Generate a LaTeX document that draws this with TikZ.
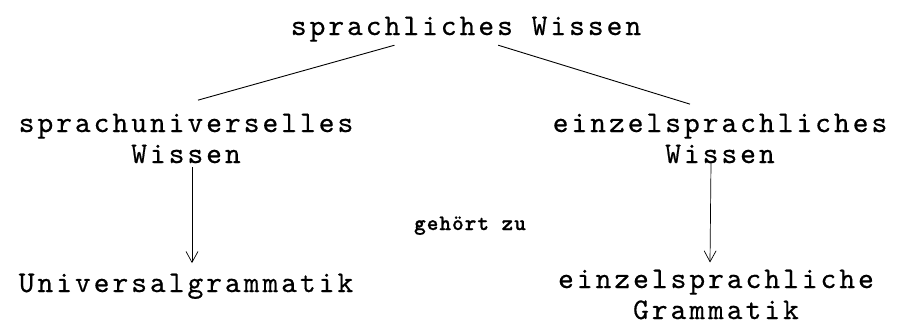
\documentclass[tikz,border=0pt]{standalone}
\usepackage{fontspec}
\usetikzlibrary{arrows.meta, calc}

\newfontfamily\typefont{lmmono10-regular.otf}[LetterSpace=10, FakeBold=0.5]
\newfontfamily\typebold{lmmonolt10-bold.otf}[LetterSpace=5, FakeBold=1]
\newcommand{\typew}{\typefont\fontsize{30}{31}\selectfont}
\newcommand{\typesmall}{\typebold\fontsize{22}{24}\selectfont}

\begin{document}
\begin{tikzpicture}[x=1pt, y=-1pt,
        wtext/.style={font=\typew, align=center, anchor=base},
        link/.style={line width=0.9pt},
        arr/.style={line width=0.7pt, -{Straight Barb[length=11pt, width=12pt]}}]
        \useasboundingbox (0,0) rectangle (902,324);

        % the base anchor of a two-line node sits on its last line
        \node[wtext] (wissen) at (466, 35) {sprachliches Wissen};

        \node[wtext] (uni) at (186, 163) {sprachuniverselles\\Wissen};
        \node[wtext] (einz) at (720, 163) {einzelsprachliches\\Wissen};

        \node[wtext] (ug) at (186, 292) {Universalgrammatik};
        \node[wtext, inner ysep=1pt] (eg) at (716, 319) {einzelsprachliche\\Grammatik};

        \node[font=\typesmall, anchor=base] (gehoert) at (470, 230) {gehört zu};

        \draw[link] ($(wissen.south west)!0.3!(wissen.south east)$) -- ($(uni.north)+(12,-10)$);
        \draw[link] ($(wissen.south west)!0.59!(wissen.south east)$) -- ($(einz.north)+(-30,-6)$);

        \draw[arr] ($(uni.south)+(6,0)$) -- ($(ug.north)+(6,-7)$);
        \draw[arr] ($(einz.south)+(-9,-4)$) -- ($(eg.north)+(-6,-6)$);
    \end{tikzpicture}
\end{document}
